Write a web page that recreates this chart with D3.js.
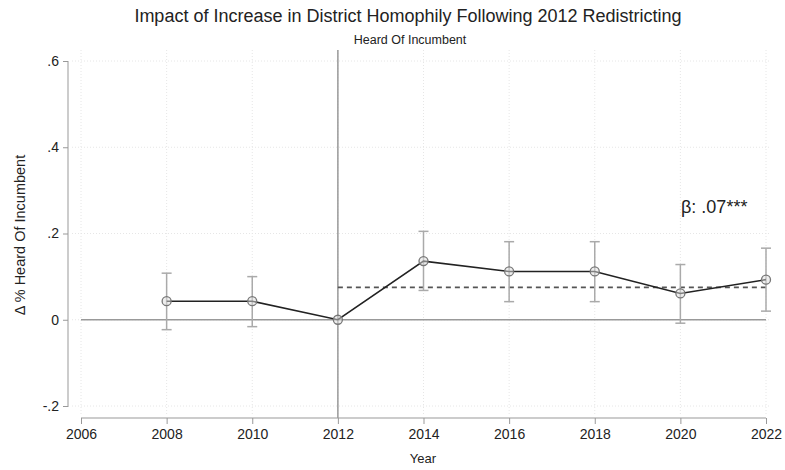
<!DOCTYPE html>
<html>
<head>
<meta charset="utf-8">
<script src="https://cdn.jsdelivr.net/npm/d3@7"></script>
<style>
  body { margin: 0; background: #fff; }
  svg { font-family: "Liberation Sans", Arial, sans-serif; }
</style>
</head>
<body>
<svg id="chart" width="785" height="470"></svg>
<script>
// Данные: годы, оценки и доверительные интервалы
const years = [2008, 2010, 2012, 2014, 2016, 2018, 2020, 2022];
const estimates = [0.043, 0.043, 0, 0.136, 0.112, 0.112, 0.061, 0.093];
const upper = [0.108, 0.100, null, 0.205, 0.181, 0.181, 0.128, 0.166];
const lower = [-0.023, -0.016, null, 0.068, 0.042, 0.042, -0.008, 0.020];
const xTicks = [2006, 2008, 2010, 2012, 2014, 2016, 2018, 2020, 2022];
const yTicks = [-0.2, 0, 0.2, 0.4, 0.6];
const yTickLabels = ["-.2", "0", ".2", ".4", ".6"];
const beta = 0.075;
const betaLabel = "β: .07***";

const svg = d3.select("#chart");

const x = d3.scaleLinear().domain([2006, 2022]).range([81, 766]);
const y = d3.scaleLinear().domain([-0.2, 0.6]).range([406, 61]);

// Сетка
svg.append("g").selectAll("line")
    .data(yTicks)
    .join("line")
    .attr("x1", 72).attr("x2", 770)
    .attr("y1", d => y(d)).attr("y2", d => y(d))
    .attr("stroke", "#e6e6e6").attr("stroke-dasharray", "1,2");
svg.append("g").selectAll("line")
    .data(xTicks)
    .join("line")
    .attr("x1", d => x(d)).attr("x2", d => x(d))
    .attr("y1", 50).attr("y2", 414)
    .attr("stroke", "#e6e6e6").attr("stroke-dasharray", "1,2");

// Оси
const yAxis = d3.axisLeft(y).tickValues(yTicks)
    .tickFormat((d, i) => yTickLabels[i]).tickSize(5).tickPadding(4);
svg.append("g")
    .attr("transform", "translate(68,0)")
    .call(yAxis)
    .call(g => g.select(".domain").attr("d", `M0,${y(0.6)}V${y(-0.2) + 1}`))
    .call(g => g.selectAll("line, path").attr("stroke", "#999"))
    .call(g => g.selectAll("text").attr("font-size", 14).attr("fill", "#222"));

const xAxis = d3.axisBottom(x).tickValues(xTicks).tickFormat(d3.format("d")).tickSize(6).tickPadding(5);
svg.append("g")
    .attr("transform", "translate(0,418)")
    .call(xAxis)
    .call(g => g.select(".domain").attr("d", `M${x(2006)},0H${x(2022)}`))
    .call(g => g.selectAll("line, path").attr("stroke", "#999"))
    .call(g => g.selectAll("text").attr("font-size", 14).attr("fill", "#222"));

// Нулевая линия и линия 2012 года
svg.append("line")
    .attr("x1", x(2006)).attr("x2", x(2022))
    .attr("y1", y(0)).attr("y2", y(0))
    .attr("stroke", "#999").attr("stroke-width", 1.5);
svg.append("line")
    .attr("x1", x(2012)).attr("x2", x(2012))
    .attr("y1", 50).attr("y2", 418)
    .attr("stroke", "#999").attr("stroke-width", 1.5);

// Пунктир — средний эффект после 2012
svg.append("line")
    .attr("x1", x(2012)).attr("x2", x(2022))
    .attr("y1", y(beta)).attr("y2", y(beta))
    .attr("stroke", "#555").attr("stroke-width", 1.6).attr("stroke-dasharray", "5,4");

// Доверительные интервалы
const ci = years.map((yr, i) => ({ yr, lo: lower[i], hi: upper[i] })).filter(d => d.lo !== null);
const ciG = svg.append("g").attr("stroke", "#aaa").attr("stroke-width", 1.5);
ciG.selectAll(".v").data(ci).join("line")
    .attr("x1", d => x(d.yr)).attr("x2", d => x(d.yr))
    .attr("y1", d => y(d.lo)).attr("y2", d => y(d.hi));
ciG.selectAll(".t").data(ci).join("line")
    .attr("x1", d => x(d.yr) - 5).attr("x2", d => x(d.yr) + 5)
    .attr("y1", d => y(d.hi)).attr("y2", d => y(d.hi));
ciG.selectAll(".b").data(ci).join("line")
    .attr("x1", d => x(d.yr) - 5).attr("x2", d => x(d.yr) + 5)
    .attr("y1", d => y(d.lo)).attr("y2", d => y(d.lo));

// Линия оценок
const pts = years.map((yr, i) => [yr, estimates[i]]);
svg.append("path")
    .datum(pts)
    .attr("fill", "none").attr("stroke", "#222").attr("stroke-width", 1.6)
    .attr("d", d3.line().x(d => x(d[0])).y(d => y(d[1])));

svg.append("g").selectAll("circle")
    .data(pts)
    .join("circle")
    .attr("cx", d => x(d[0])).attr("cy", d => y(d[1])).attr("r", 4.5)
    .attr("fill", "#ddd").attr("fill-opacity", 0.5)
    .attr("stroke", "#777").attr("stroke-width", 1.3);

// Подпись коэффициента
svg.append("text")
    .attr("x", 681).attr("y", 213)
    .attr("font-size", 18).attr("fill", "#222")
    .text(betaLabel);

// Заголовки
svg.append("text")
    .attr("x", 408).attr("y", 22).attr("text-anchor", "middle")
    .attr("font-size", 18).attr("fill", "#222")
    .text("Impact of Increase in District Homophily Following 2012 Redistricting");
svg.append("text")
    .attr("x", 410).attr("y", 44).attr("text-anchor", "middle")
    .attr("font-size", 12.5).attr("fill", "#222")
    .text("Heard Of Incumbent");
svg.append("text")
    .attr("transform", "translate(25,235) rotate(-90)").attr("text-anchor", "middle")
    .attr("font-size", 14.5).attr("fill", "#222")
    .text("Δ % Heard Of Incumbent");
svg.append("text")
    .attr("x", 423).attr("y", 463).attr("text-anchor", "middle")
    .attr("font-size", 13).attr("fill", "#222")
    .text("Year");
</script>
</body>
</html>
